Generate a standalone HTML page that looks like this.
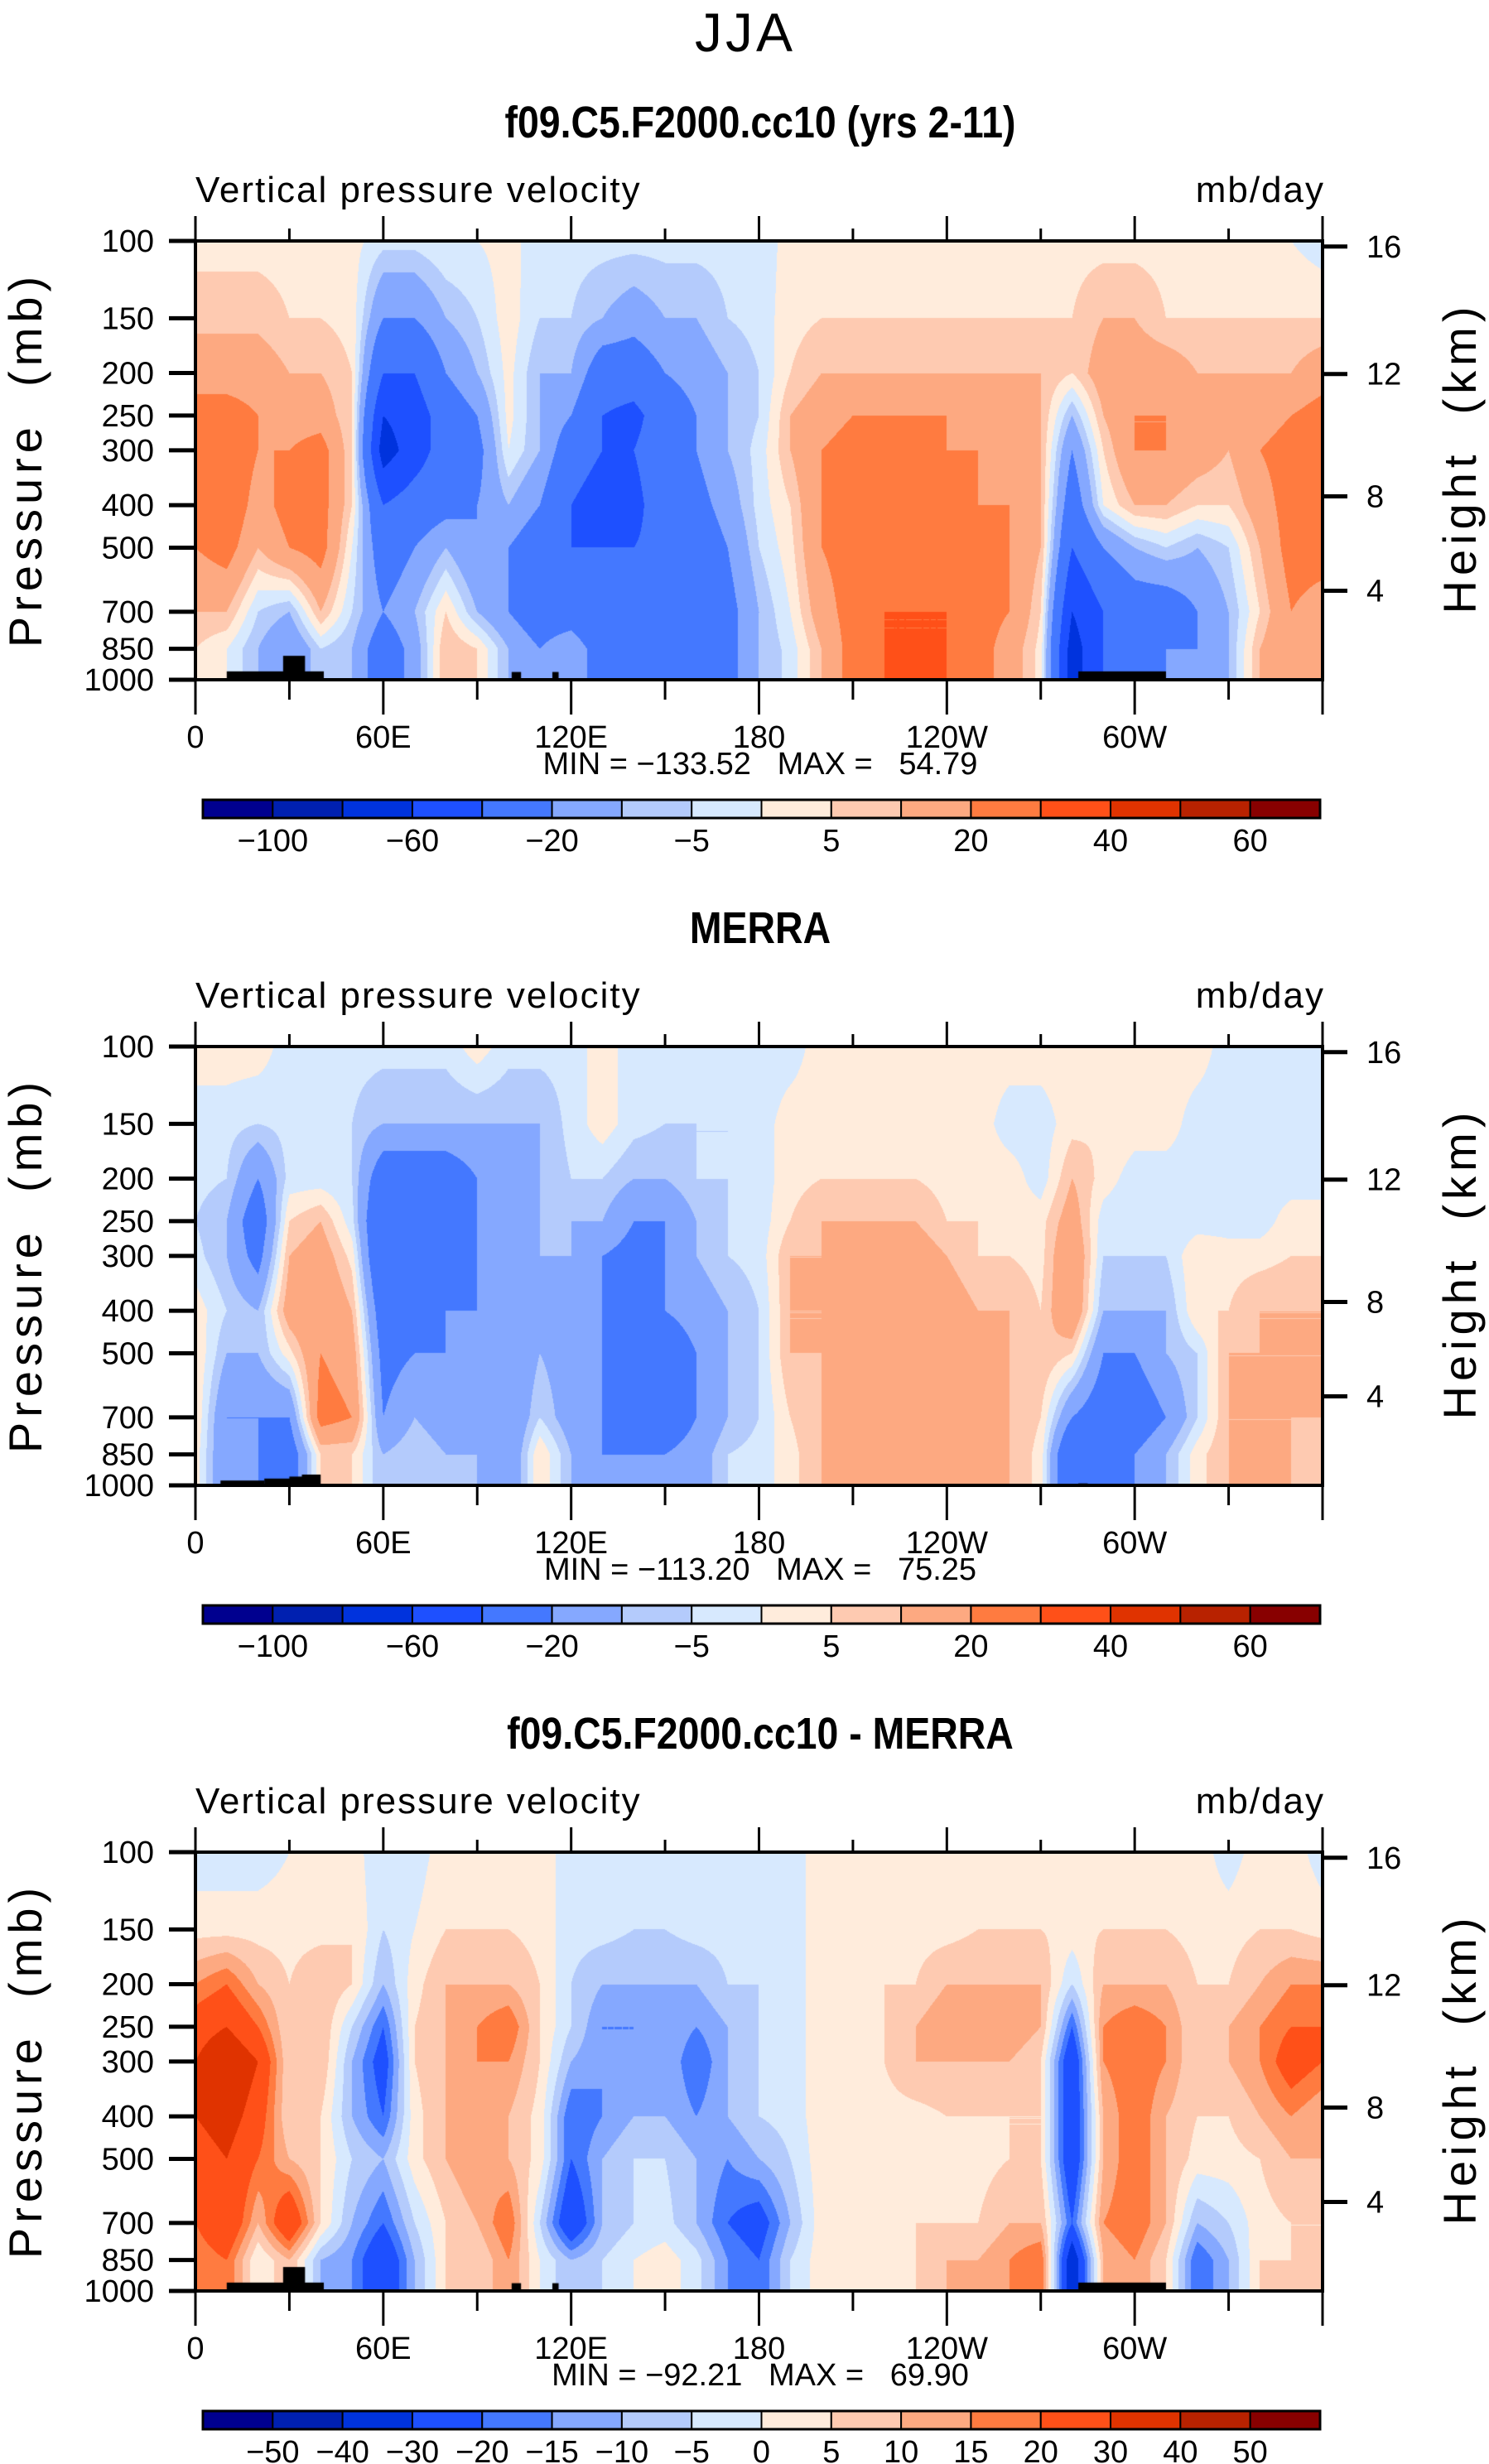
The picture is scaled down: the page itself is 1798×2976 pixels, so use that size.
<!DOCTYPE html>
<html><head><meta charset="utf-8">
<style>
html,body{margin:0;padding:0;background:#fff;}
#root{position:relative;width:1798px;height:2976px;overflow:hidden;font-family:"Liberation Sans Narrow","Liberation Sans",sans-serif;}
svg text{font-family:"Liberation Sans Narrow","Liberation Sans",sans-serif;white-space:pre;}
canvas{position:absolute;}
</style></head>
<body>
<div id="root">
<canvas id="c0" width="1361" height="530" style="left:236px;top:291px"></canvas>
<canvas id="c1" width="1361" height="530" style="left:236px;top:1264px"></canvas>
<canvas id="c2" width="1361" height="530" style="left:236px;top:2237px"></canvas>
<svg id="ov" width="1798" height="2976" style="position:absolute;left:0;top:0"></svg>
</div>
<script>
// ---- data ----
const lons = [0,10,20,30,40,50,60,70,80,90,100,110,120,130,140,150,160,170,180,190,200,210,220,230,240,250,260,270,280,290,300,310,320,330,340,350,360];
const levels = [100,150,200,250,300,400,500,700,850];
const xTickLabels = ["0","60E","120E","180","120W","60W"];
const yTickValues = [100,150,200,250,300,400,500,700,850,1000];
const heightTicks = [16,12,8,4];
const heightTickPress = [103,201,382,627]; // pressure equivalent of height ticks
const barLevelsAbs = [-100,-80,-60,-40,-20,-10,-5,0,5,10,20,30,40,50,60];
const barLabelsAbs = ["−100","−60","−20","−5","5","20","40","60"];
const barLevelsDiff = [-50,-40,-30,-20,-15,-10,-5,0,5,10,15,20,30,40,50];
const barLabelsDiff = ["−50","−40","−30","−20","−15","−10","−5","0","5","10","15","20","30","40","50"];
const colors = ["#00008f","#0020b0","#0033dd","#1e50ff","#4478ff","#85a8ff","#b4cbfc","#d7e9fe","#ffecdc","#fecab1","#fda981","#ff7b40","#ff5018","#e03300","#b82200","#880000"];

const model = [
[3,8,15,25,25,25,20,10,5],[3,8,15,25,30,30,25,10,0],[3,8,15,20,20,15,10,-5,-10],[3,5,10,15,20,25,20,-10,-20],
[3,5,10,15,25,25,25,10,-5],[2,3,5,5,5,5,0,-5,-10],[-3,-20,-40,-60,-70,-40,-30,-20,-30],[-3,-20,-40,-50,-50,-30,-20,-10,-15],
[0,-10,-20,-30,-30,-25,-10,5,10],[0,-5,-10,-20,-25,-20,-20,-10,5],[2,3,2,2,0,-10,-20,-20,-10],[-3,-5,-10,-10,-10,-20,-30,-30,-20],
[-3,-5,-10,-20,-30,-40,-40,-30,-10],[-3,-10,-30,-40,-40,-50,-40,-40,-30],[-3,-15,-30,-45,-40,-45,-40,-40,-30],[-3,-10,-20,-30,-30,-30,-35,-40,-30],
[-3,-10,-15,-20,-20,-25,-30,-35,-30],[-3,-5,-10,-10,-10,-15,-20,-25,-25],[-3,-3,-5,-5,-3,-3,-5,-10,-10],[2,3,5,10,10,5,3,0,-3],
[3,5,10,15,20,20,20,15,10],[3,5,10,20,25,25,25,25,25],[3,5,10,20,25,25,30,30,30],[3,5,10,20,25,25,25,30,30],
[3,5,10,20,20,25,25,30,30],[3,5,10,15,20,20,25,25,25],[3,5,10,15,15,20,20,20,15],[3,5,10,10,10,10,10,5,3],
[3,5,5,-10,-20,-30,-40,-60,-70],[3,10,15,10,5,0,-20,-40,-40],[3,10,15,20,20,10,-10,-30,-30],[3,5,15,20,20,10,-5,-30,-20],
[3,5,10,15,15,5,-10,-20,-20],[3,5,10,15,10,5,-5,-10,-10],[3,5,10,15,20,15,10,5,10],[0,5,10,20,25,25,25,20,20],[-3,5,15,25,25,25,25,15,15]];

const merra = [
[3,-3,-3,-5,-3,3,5,5,3],[3,-3,-5,-10,-10,-5,-10,-20,-20],[3,-5,-20,-30,-25,-10,-10,-20,-20],[-3,-3,-3,5,10,15,3,-20,-30],
[-3,-3,-3,10,15,20,20,25,5],[-3,-5,-5,-3,3,10,15,20,5],[-3,-10,-30,-40,-40,-30,-25,-20,-10],[-3,-10,-30,-40,-30,-25,-20,-10,-5],
[-3,-10,-30,-30,-25,-20,-20,-15,-10],[3,-10,-20,-20,-20,-20,-20,-20,-10],[-3,-10,-20,-20,-15,-20,-20,-20,-20],[-3,-10,-10,-10,-10,-10,-10,-5,5],
[-3,-3,-5,-10,-10,-15,-15,-15,-10],[3,3,-5,-10,-20,-20,-20,-20,-20],[-3,-3,-10,-20,-25,-30,-30,-30,-20],[-3,-5,-10,-20,-20,-20,-30,-30,-20],
[-3,-5,-5,-10,-10,-15,-20,-20,-15],[-3,-5,-5,-5,-5,-10,-10,-10,-5],[-3,-3,-3,-3,-3,-5,-5,-5,-3],[-3,3,3,5,10,10,10,5,3],
[3,3,5,10,10,10,10,10,10],[3,3,5,10,15,15,15,15,10],[3,3,5,10,15,15,15,15,15],[3,3,5,10,15,15,15,15,15],
[3,3,3,5,10,15,20,15,15],[3,3,3,5,5,10,15,10,15],[3,-3,3,3,5,10,10,10,10],[3,-3,-3,3,3,5,10,5,3],
[3,3,10,15,20,20,5,-20,-40],[3,5,3,-3,-5,-10,-20,-30,-30],[3,3,-3,-5,-5,-10,-20,-30,-20],[3,3,-3,-5,-5,-10,-10,-20,-10],
[3,-3,-3,-3,5,5,-5,-5,3],[-3,-3,-3,-3,3,5,10,10,10],[-3,-3,-3,-3,3,10,10,10,10],[-3,-3,-3,3,5,10,10,10,10],[-3,-3,-3,3,5,10,10,10,5]];

const diff = [
[-3,3,15,25,30,30,25,20,15],[-3,3,20,30,40,35,30,30,20],[-3,3,10,20,30,25,20,10,0],[0,3,5,5,5,5,10,30,10],
[0,3,10,10,10,5,5,5,-10],[3,5,5,-5,-10,-10,-5,-10,-15],[-5,-5,-10,-20,-25,-20,-10,-20,-30],[-3,0,3,5,5,3,3,-5,-10],
[3,5,10,10,10,10,10,5,5],[3,5,10,15,15,15,15,10,5],[3,5,10,20,15,10,10,20,15],[3,3,5,5,5,3,3,-5,0],
[-3,-3,-5,-5,-10,-20,-20,-30,-10],[-3,-3,-10,-15,-15,-15,-10,-10,-5],[-3,-5,-10,-15,-15,-10,-5,-5,0],[-3,-5,-10,-10,-10,-10,-5,-3,3],
[-3,-3,-10,-15,-20,-15,-10,-10,-3],[-3,-3,-5,-10,-10,-10,-15,-20,-15],[-3,-3,-5,-5,-5,-5,-10,-25,-20],[-3,-3,-3,-3,-3,-3,-5,-10,-5],
[3,3,3,3,3,3,3,3,3],[3,3,3,5,3,3,3,3,3],[3,3,5,5,5,3,3,3,3],[3,3,5,10,10,3,3,5,5],
[3,3,10,15,10,5,3,5,10],[3,5,10,15,10,5,3,5,10],[3,5,10,15,10,5,5,10,15],[3,5,10,10,5,5,5,10,20],
[3,3,-5,-20,-30,-30,-30,-20,-40],[3,5,10,15,15,10,10,15,10],[3,5,10,20,20,20,20,20,15],[3,5,10,15,15,10,10,10,5],
[3,3,5,5,5,5,3,-10,-20],[-3,3,5,10,10,5,3,-5,-10],[3,5,10,15,15,10,5,3,5],[3,5,15,20,25,15,10,5,5],[-3,3,15,20,20,10,10,5,5]];

// land masks: [lonStart, lonEnd, pressureTop]
const maskModel = [[10,41,957],[28,35,882],[101,104,960],[114,116,960],[282,310,957]];
const maskMerra = [[8,22,975],[22,34,965],[30,36,955],[34,40,945],[282,285,990]];
const maskDiff = [[10,41,957],[28,35,882],[101,104,960],[114,116,960],[282,310,957]];

const summaries = [["MIN = −133.52   MAX =   54.79"],["MIN = −113.20   MAX =   75.25"],["MIN = −92.21   MAX =   69.90"]];
const titles = ["f09.C5.F2000.cc10 (yrs 2-11)","MERRA","f09.C5.F2000.cc10 - MERRA"];

// ---- geometry ----
const PL=236, PR=1597, PW=PR-PL, PH=530, tops=[291,1264,2237];
const xOf = lon => PL + lon/360*PW;
const yOf = (p,top) => top + Math.log10(p/100)*PH;
const NS="http://www.w3.org/2000/svg";
const ov=document.getElementById('ov');
function mk(tag,attrs,parent){const e=document.createElementNS(NS,tag);for(const k in attrs)e.setAttribute(k,attrs[k]);(parent||ov).appendChild(e);return e;}
function txt(s,x,y,size,anchor,extra){const t=mk('text',Object.assign({x:x,y:y,'font-size':size,'text-anchor':anchor||'middle',fill:'#000'},extra||{}));t.textContent=s;return t;}

function colorIdx(v,lv){let i=0;while(i<lv.length&&v>=lv[i])i++;return i;}
function hex(c){return [parseInt(c.substr(1,2),16),parseInt(c.substr(3,2),16),parseInt(c.substr(5,2),16)];}
const rgb=colors.map(hex);
const logL=levels.map(p=>Math.log10(p));

function drawField(id,data,lv,masks){
  const cv=document.getElementById(id),ctx=cv.getContext('2d');
  const img=ctx.createImageData(PW,PH);
  const rowI=[],rowF=[];
  for(let y=0;y<PH;y++){
    const lp=2+(y+0.5)/PH;let i=0;
    while(i<logL.length-2&&lp>logL[i+1])i++;
    let f=(lp-logL[i])/(logL[i+1]-logL[i]);f=Math.max(0,Math.min(1,f));
    rowI.push(i);rowF.push(f);
  }
  for(let x=0;x<PW;x++){
    const lon=(x+0.5)/PW*360;const step=lons[1]-lons[0];
    let j=Math.min(lons.length-2,Math.floor(lon/step));const g=(lon-lons[j])/step;
    const a=data[j],b=data[j+1];
    for(let y=0;y<PH;y++){
      const i=rowI[y],f=rowF[y];
      const va=a[i]*(1-f)+a[i+1]*f, vb=b[i]*(1-f)+b[i+1]*f;
      const v=va*(1-g)+vb*g;
      const c=rgb[colorIdx(v,lv)];const k=(y*PW+x)*4;
      img.data[k]=c[0];img.data[k+1]=c[1];img.data[k+2]=c[2];img.data[k+3]=255;
    }
  }
  ctx.putImageData(img,0,0);
  ctx.fillStyle='#000';
  masks.forEach(m=>{const x0=xOf(m[0])-PL,x1=xOf(m[1])-PL,y0=yOf(m[2],0);ctx.fillRect(x0,y0,x1-x0,PH-y0);});
}

function drawAxes(k,lv,labels){
  const top=tops[k],bot=top+PH,g=mk('g',{});
  
  
  const ty=top-125;
  const t=txt(titles[k],918,ty,54,'middle',{'font-family':'"Liberation Sans",sans-serif','font-weight':'bold','transform':'translate(918,'+ty+') scale(0.86,1) translate(-918,'+(-ty)+')'});
  
  
  const l=txt('Vertical pressure velocity',236,top-47,44,'start',{'letter-spacing':'2'});
  
  
  const u=txt('mb/day',1600,top-47,44,'end',{'letter-spacing':'2'});
  
  
  mk('rect',{x:PL,y:top,width:PW,height:PH,fill:'none',stroke:'#000','stroke-width':4});
  for(let lon=0;lon<=360;lon+=30){
    const x=xOf(lon),maj=lon%60===0;
    mk('line',{x1:x,x2:x,y1:top,y2:top-(maj?30:15),stroke:'#000','stroke-width':3});
    mk('line',{x1:x,x2:x,y1:bot,y2:bot+(maj?42:24),stroke:'#000','stroke-width':3});
  }
  xTickLabels.forEach((s,i)=>{const e=txt(s,xOf(i*60),bot+82,38);
    
    });
  yTickValues.forEach(p=>{const y=yOf(p,top);
    mk('line',{x1:PL,x2:PL-32,y1:y,y2:y,stroke:'#000','stroke-width':5});
    const e=txt(String(p),186,y+13,38,'end');
    
    });
  heightTicks.forEach((h,i)=>{const y=yOf(heightTickPress[i],top);
    mk('line',{x1:PR,x2:PR+30,y1:y,y2:y,stroke:'#000','stroke-width':5});
    const e=txt(String(h),1650,y+13,38,'start');
    
    });
  const yl=txt('Pressure  (mb)',0,0,56,'middle',{transform:'translate(50,'+(top+264)+') rotate(-90)','letter-spacing':'6','font-family':'"Liberation Sans",sans-serif'});
  
  
  const yr=txt('Height  (km)',0,0,56,'middle',{transform:'translate(1782,'+(top+262)+') rotate(-90)','letter-spacing':'6','font-family':'"Liberation Sans",sans-serif'});
  
  
  const s=txt(summaries[k][0],918,top+644,38,'middle');
  
  
  const cb0=245,cb1=1594,cy=top+675,ch=22,n=colors.length,bw=(cb1-cb0)/n;
  colors.forEach((c,i)=>{const r=mk('rect',{x:cb0+i*bw,y:cy,width:bw,height:ch,fill:c,stroke:'#000','stroke-width':2});
    
    });
  mk('rect',{x:cb0,y:cy,width:cb1-cb0,height:ch,fill:'none',stroke:'#000','stroke-width':3});
  const step=(labels.length===lv.length)?1:2;
  labels.forEach((s,i)=>{const bi=1+i*step;const e=txt(s,cb0+bi*bw,cy+ch+40,38);
    
    });
}

const jja=txt('JJA',900,62,66,'middle',{'font-family':'"Liberation Sans",sans-serif','font-weight':'300','letter-spacing':'4'});



drawField('c0',model,barLevelsAbs,maskModel);
drawField('c1',merra,barLevelsAbs,maskMerra);
drawField('c2',diff,barLevelsDiff,maskDiff);
drawAxes(0,barLevelsAbs,barLabelsAbs);
drawAxes(1,barLevelsAbs,barLabelsAbs);
drawAxes(2,barLevelsDiff,barLabelsDiff);
</script>
</body></html>
